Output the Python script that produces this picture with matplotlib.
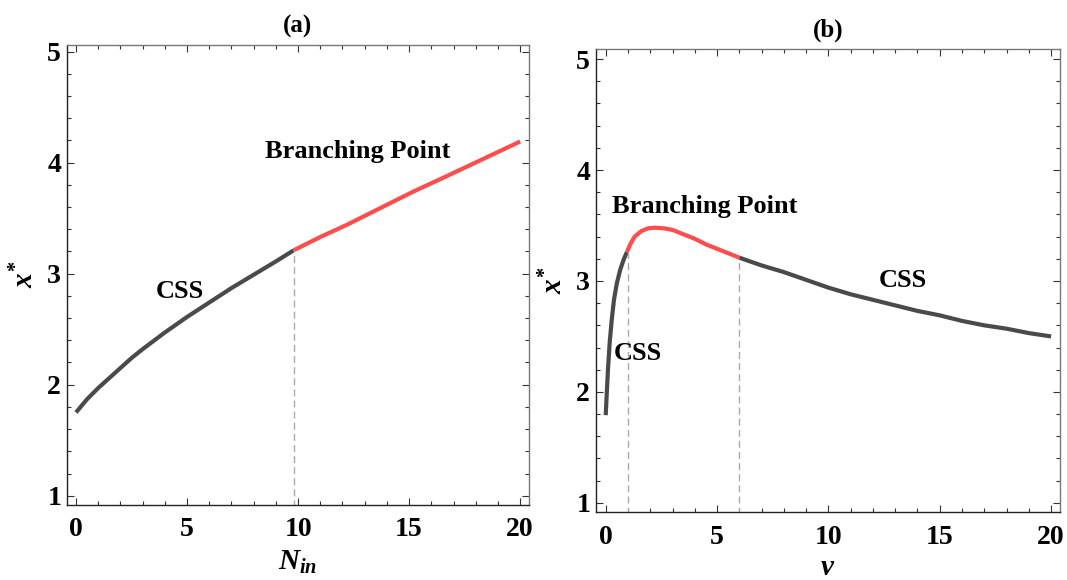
import numpy as np
import matplotlib
matplotlib.use("Agg")
import matplotlib.pyplot as plt
from matplotlib.ticker import MultipleLocator

# fonts - bold serif everywhere, like the Mathematica export
plt.rcParams['font.family'] = ['Liberation Serif', 'DejaVu Serif']
plt.rcParams['font.weight'] = 'bold'
plt.rcParams['mathtext.fontset'] = 'custom'
plt.rcParams['mathtext.rm'] = 'Liberation Serif:bold'
plt.rcParams['mathtext.it'] = 'Liberation Serif:italic:bold'
plt.rcParams['mathtext.bf'] = 'Liberation Serif:bold'

# panel (a): x* vs N_in
n_css = [0, 0.5, 1, 1.5, 2, 2.5, 3, 4, 5, 6, 7, 8, 9, 9.8]
x_css_a = [1.75, 1.87, 1.97, 2.06, 2.15, 2.24, 2.32, 2.47, 2.61, 2.74, 2.87, 2.99, 3.11, 3.21]
n_bp = [9.8, 11, 12.2, 13.5, 15.2, 16.5, 18.2, 20]
x_bp_a = [3.21, 3.33, 3.44, 3.57, 3.74, 3.86, 4.02, 4.19]
n_branch = 9.8

# panel (b): x* vs nu
nu_css1 = [0, 0.05, 0.1, 0.18, 0.27, 0.37, 0.5, 0.65, 0.8, 0.95]
x_css1_b = [1.79, 2.0, 2.2, 2.45, 2.65, 2.83, 2.98, 3.1, 3.19, 3.26]
nu_bp = [0.95, 1.1, 1.3, 1.6, 1.9, 2.2, 2.6, 3.0, 3.5, 4.0, 4.5, 5.0, 5.5, 6.0]
x_bp_b = [3.26, 3.33, 3.40, 3.45, 3.475, 3.48, 3.475, 3.46, 3.42, 3.38, 3.33, 3.29, 3.25, 3.21]
nu_css2 = [6, 7, 8, 9, 10, 11, 12, 13, 14, 15, 16, 17, 18, 19, 20]
x_css2_b = [3.21, 3.14, 3.08, 3.01, 2.94, 2.88, 2.83, 2.78, 2.73, 2.69, 2.64, 2.60, 2.57, 2.53, 2.50]
nu_branch = [1.0, 6.0]

dark = '#4a4a4a'
red = '#ff4d4d'
lw = 3.0

fig = plt.figure(figsize=(10.67, 5.8), dpi=100)
ax1 = fig.add_axes([0.0625, 0.130, 0.4333, 0.7926])
ax2 = fig.add_axes([0.5583, 0.117, 0.4351, 0.7983])


def style_axes(ax, xlim, ylim):
    ax.set_xlim(*xlim)
    ax.set_ylim(*ylim)
    ax.xaxis.set_major_locator(MultipleLocator(5))
    ax.xaxis.set_minor_locator(MultipleLocator(1))
    ax.yaxis.set_major_locator(MultipleLocator(1))
    ax.yaxis.set_minor_locator(MultipleLocator(0.2))
    ax.tick_params(which='both', direction='in', top=True, right=True,
                   labelsize=20, width=0.8, color='#333333')
    ax.tick_params(axis='x', pad=9)
    ax.tick_params(axis='y', pad=4)
    ax.tick_params(which='major', length=5)
    ax.tick_params(which='minor', length=3)
    for lab in ax.get_xticklabels() + ax.get_yticklabels():
        lab.set_fontweight('bold')
    for side in ['top', 'right']:
        ax.spines[side].set_color('#777777')
    for side in ['bottom', 'left']:
        ax.spines[side].set_color('#222222')
    for s in ax.spines.values():
        s.set_linewidth(1.0)


# (a)
ax1.plot(n_css, x_css_a, color=dark, lw=lw, solid_capstyle='butt')
ax1.plot(n_bp, x_bp_a, color=red, lw=lw, solid_capstyle='butt')
ax1.plot([n_branch, n_branch], [0.9, x_css_a[-1]], color='#aaaaaa', lw=1, ls=(0, (5, 3)))
style_axes(ax1, (-0.42, 20.4), (0.92, 5.06))
ax1.text(4.68, 2.84, 'CSS', fontsize=19, fontweight='bold', ha='center', va='center')
ax1.text(12.7, 4.10, 'Branching Point', fontsize=19, fontweight='bold', ha='center', va='center')
ax1.set_title('(a)', fontsize=18, fontweight='bold', pad=9)
ax1.set_xlabel(r'$N_{in}$', fontsize=21, labelpad=5)
ax1.set_ylabel(r'$x^{*}$', fontsize=21, labelpad=6)

# (b)
ax2.plot(nu_css1, x_css1_b, color=dark, lw=lw, solid_capstyle='butt')
ax2.plot(nu_bp, x_bp_b, color=red, lw=lw, solid_capstyle='butt')
ax2.plot(nu_css2, x_css2_b, color=dark, lw=lw, solid_capstyle='butt')
for nb, yb in zip(nu_branch, [x_css1_b[-1], x_css2_b[0]]):
    ax2.plot([nb, nb], [0.9, yb], color='#aaaaaa', lw=1, ls=(0, (5, 3)))
style_axes(ax2, (-0.45, 20.4), (0.916, 5.09))
ax2.text(1.45, 2.35, 'CSS', fontsize=19, fontweight='bold', ha='center', va='center')
ax2.text(13.35, 3.0, 'CSS', fontsize=19, fontweight='bold', ha='center', va='center')
ax2.text(4.46, 3.67, 'Branching Point', fontsize=19, fontweight='bold', ha='center', va='center')
ax2.set_title('(b)', fontsize=18, fontweight='bold', pad=9)
ax2.set_xlabel(r'$\nu$', fontsize=21, labelpad=4)
ax2.set_ylabel(r'$x^{*}$', fontsize=21, labelpad=6)

fig.savefig('out.png', dpi=100)
